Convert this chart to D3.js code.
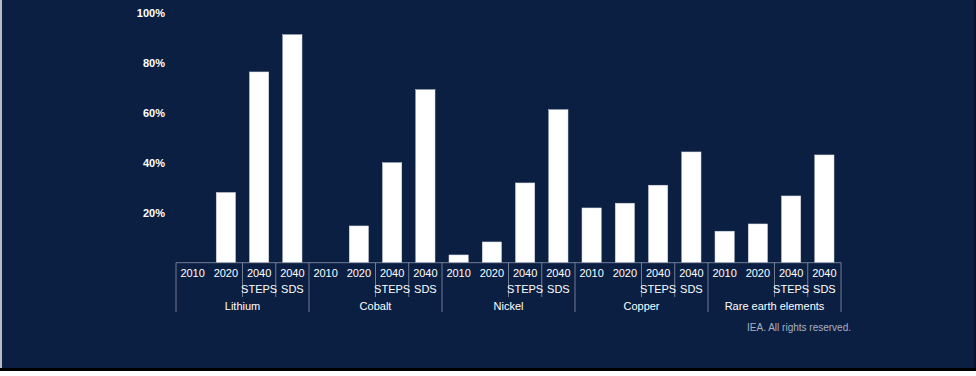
<!DOCTYPE html>
<html>
<head>
  <meta charset="UTF-8">
  <style>
    body { margin: 0; background: #fff; }
    svg { display: block; font-family: "Liberation Sans", Arial, sans-serif; }
  </style>
</head>
<body>
<svg></svg>
<script src="https://d3js.org/d3.v7.min.js"></script>
<script>

// data
let groups = ["Lithium", "Cobalt", "Nickel", "Copper", "Rare earth elements"];
let years = ["2010", "2020", "2040", "2040"];
let scenarios = ["", "", "STEPS", "SDS"];
let lithium = [0, 28.1, 76.3, 91.2];
let cobalt = [0, 14.7, 40.0, 69.2];
let nickel = [3.1, 8.3, 31.9, 61.2];
let copper = [21.9, 23.8, 31.0, 44.3];
let rareEarth = [12.6, 15.5, 26.7, 43.1];
let yTicks = [20, 40, 60, 80, 100];

let series = [lithium, cobalt, nickel, copper, rareEarth];

let width = 976, height = 376;

let svg = d3.select("svg")
    .attr("width", width)
    .attr("height", height);

// background / frame
svg.append("rect").attr("x", 0).attr("y", 0).attr("width", width).attr("height", 369).attr("fill", "#0b1f43");
svg.append("rect").attr("x", 0).attr("y", 0).attr("width", 2).attr("height", 369).attr("fill", "#b9bcc2");
svg.append("rect").attr("x", 974).attr("y", 0).attr("width", 2).attr("height", 369).attr("fill", "#06132b");
svg.append("rect").attr("x", 0).attr("y", 368).attr("width", width).attr("height", 3).attr("fill", "#000");

// flatten rows
let rows = [];
groups.forEach((g, gi) => {
    series[gi].forEach((v, i) => {
        rows.push({id: gi * 4 + i, group: g, gi: gi, i: i, year: years[i], scen: scenarios[i], value: v});
    });
});

let x = d3.scaleBand()
    .domain(rows.map(d => d.id))
    .range([176, 841])
    .paddingInner(0.42)
    .paddingOuter(0.21);

let y = d3.scaleLinear()
    .domain([0, 100])
    .range([262.7, 12.7]);

let step = x.step();

// y tick labels
svg.append("g")
    .selectAll("text")
    .data(yTicks)
    .enter()
        .append("text")
        .attr("x", 165)
        .attr("y", d => y(d))
        .attr("dy", "0.35em")
        .attr("text-anchor", "end")
        .attr("fill", "#fff")
        .style("font-size", "11px")
        .style("font-weight", "bold")
        .text(d => d + "%");

// bars
svg.append("g")
    .selectAll("rect")
    .data(rows.filter(d => d.value > 0))
    .enter()
        .append("rect")
        .attr("x", d => x(d.id))
        .attr("y", d => y(d.value))
        .attr("width", x.bandwidth())
        .attr("height", d => y(0) - y(d.value))
        .attr("fill", "#fff")
        .attr("stroke", "#c9ced8")
        .attr("stroke-width", 0.5);

// baseline
svg.append("line")
    .attr("x1", 176).attr("x2", 841)
    .attr("y1", y(0)).attr("y2", y(0))
    .attr("stroke", "#8c96a8")
    .attr("stroke-width", 0.8);

// separators
let sep = svg.append("g").attr("stroke", "#8c96a8").attr("stroke-width", 0.8);
rows.forEach(d => {
    let left = x(d.id) - step * 0.21;
    if (d.i == 0) {
        sep.append("line").attr("x1", left).attr("x2", left).attr("y1", y(0)).attr("y2", 312);
    } else if (d.i >= 2) {
        sep.append("line").attr("x1", left).attr("x2", left).attr("y1", y(0)).attr("y2", 297);
    }
});
sep.append("line").attr("x1", 841).attr("x2", 841).attr("y1", y(0)).attr("y2", 312);

// category labels
let labels = svg.append("g")
    .attr("fill", "#fff")
    .attr("text-anchor", "middle")
    .style("font-size", "11px");

labels.selectAll(".yr")
    .data(rows)
    .enter()
        .append("text")
        .attr("x", d => x(d.id) + x.bandwidth() / 2)
        .attr("y", 277)
        .text(d => d.year);

labels.selectAll(".sc")
    .data(rows.filter(d => d.scen))
    .enter()
        .append("text")
        .attr("x", d => x(d.id) + x.bandwidth() / 2)
        .attr("y", 293)
        .text(d => d.scen);

labels.selectAll(".gr")
    .data(groups)
    .enter()
        .append("text")
        .attr("x", (g, gi) => (x(gi * 4) + x(gi * 4 + 3) + x.bandwidth()) / 2)
        .attr("y", 309.5)
        .text(g => g);

// footer
svg.append("text")
    .attr("x", 851)
    .attr("y", 331)
    .attr("text-anchor", "end")
    .attr("fill", "#a9b1c0")
    .style("font-size", "10px")
    .text("IEA. All rights reserved.");

</script>
</body>
</html>
